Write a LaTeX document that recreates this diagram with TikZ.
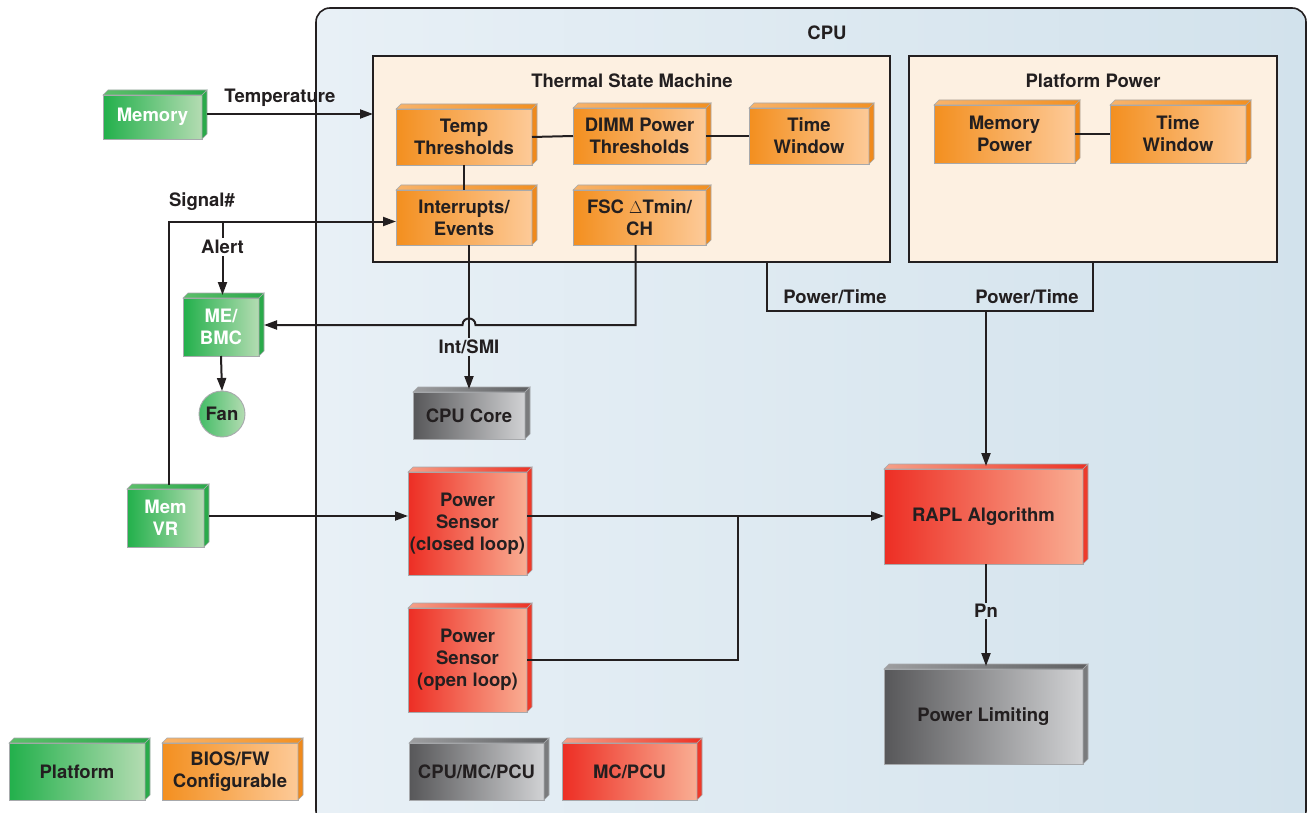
\documentclass[tikz,border=0pt]{standalone}
\usepackage{fontspec}
\setmainfont{TeX Gyre Heros}
\usetikzlibrary{arrows.meta,calc}

\definecolor{ink}{HTML}{231F20}
\definecolor{edge}{HTML}{A7A9AC}
\definecolor{cpuL}{HTML}{E8F0F6}
\definecolor{cpuR}{HTML}{D2E2EC}
\definecolor{panel}{HTML}{FDF0E1}
\definecolor{grnL}{HTML}{22B04B}
\definecolor{grnR}{HTML}{B4DCB2}
\definecolor{grnTL}{HTML}{5CBF6A}
\definecolor{grnTR}{HTML}{2AA84A}
\definecolor{grnS}{HTML}{2AAA4A}
\definecolor{orgL}{HTML}{F38F1F}
\definecolor{orgR}{HTML}{FDCA98}
\definecolor{orgTL}{HTML}{F8B36A}
\definecolor{orgTR}{HTML}{F39020}
\definecolor{orgS}{HTML}{F08A1C}
\definecolor{redL}{HTML}{ED2E24}
\definecolor{redR}{HTML}{F9AE93}
\definecolor{redTL}{HTML}{F6A088}
\definecolor{redTR}{HTML}{EE3124}
\definecolor{redS}{HTML}{EE3A2A}
\definecolor{gryL}{HTML}{575759}
\definecolor{gryR}{HTML}{D1D2D4}
\definecolor{gryTL}{HTML}{9D9EA0}
\definecolor{gryTR}{HTML}{5E5F61}
\definecolor{gryS}{HTML}{7A7B7D}

\tikzset{
  txt/.style={font=\bfseries\fontsize{18.5}{22}\selectfont, text=ink},
  blk/.style={txt, draw=edge, line width=0.9pt, inner sep=0pt, outer sep=0pt,
    align=center},
  sz/.style 2 args={minimum width=#1pt, minimum height=#2pt},
  greenbox/.style={blk, left color=grnL, right color=grnR, text=white},
  orangebox/.style={blk, left color=orgL, right color=orgR},
  redbox/.style={blk, left color=redL, right color=redR},
  greybox/.style={blk, left color=gryL, right color=gryR},
  panelbox/.style={draw=ink, line width=1.6pt, fill=panel},
  wire/.style={draw=ink, line width=2pt},
  arr/.style={wire, -{Triangle[length=13pt,width=9pt]}},
  lbl/.style={txt, inner sep=1.5pt},
}

% top and right faces of a bevelled block
\newcommand\boxfaces[4]{%
  \path[draw=edge, line width=0.6pt, left color=#2, right color=#3]
    (#1.north west) -- ++(5,-5) -- ($(#1.north east)+(5,-5)$) -- (#1.north east) -- cycle;
  \path[draw=edge, line width=0.6pt, fill=#4]
    (#1.north east) -- ++(5,-5) -- ($(#1.south east)+(5,-5)$) -- (#1.south east) -- cycle;}

\begin{document}
\begin{tikzpicture}[x=1pt, y=-1pt]
\useasboundingbox (0,0) rectangle (1308,813);
\fill[white] (0,0) rectangle (1308,813);

% CPU enclosure
\path[draw=ink, line width=1.6pt, rounded corners=14pt, left color=cpuL, right color=cpuR]
  (316,8) rectangle (1306,825);
\node[lbl] (cpu) at (827,33) {CPU};

% sub-panels
\path[panelbox] (373,56) rectangle (890,262);
\node[lbl] (tsmtitle) at (632,81) {Thermal State Machine};
\coordinate (tsmS) at (632,262);
\coordinate (tsmW) at (373,159);
\path[panelbox] (909,56) rectangle (1277,262);
\node[lbl] (pptitle) at (1093,81) {Platform Power};
\coordinate (ppS) at (1093,262);

% platform blocks
\node[greenbox, sz={99}{44}] (mem) at (152.5,117) {Memory};
\boxfaces{mem}{grnTL}{grnTR}{grnS}
\node[greenbox, sz={76}{58}] (mebmc) at (221,327) {ME/\\BMC};
\boxfaces{mebmc}{grnTL}{grnTR}{grnS}
\node[blk, circle, minimum size=46pt, left color=grnL!85, right color=grnR] (fan) at (222,414) {Fan};
\node[greenbox, sz={77}{58}] (memvr) at (165.5,518) {Mem\\VR};
\boxfaces{memvr}{grnTL}{grnTR}{grnS}

% thermal state machine blocks
\node[orangebox, sz={136}{56}] (temp) at (464,137) {Temp\\Thresholds};
\boxfaces{temp}{orgTL}{orgTR}{orgS}
\node[orangebox, sz={133}{56}] (dimm) at (639.5,136) {DIMM Power\\Thresholds};
\boxfaces{dimm}{orgTL}{orgTR}{orgS}
\node[orangebox, sz={120}{56}] (tw1) at (809,136) {Time\\Window};
\boxfaces{tw1}{orgTL}{orgTR}{orgS}
\node[orangebox, sz={136}{55}] (intr) at (464,217.5) {Interrupts/\\Events};
\boxfaces{intr}{orgTL}{orgTR}{orgS}
\node[orangebox, sz={133}{55}] (fsc) at (639.5,217.5) {FSC $\Delta$Tmin/\\CH};
\boxfaces{fsc}{orgTL}{orgTR}{orgS}

% platform power blocks
\node[orangebox, sz={141}{58}] (mpow) at (1004.5,134) {Memory\\Power};
\boxfaces{mpow}{orgTL}{orgTR}{orgS}
\node[orangebox, sz={136}{58}] (tw2) at (1178,134) {Time\\Window};
\boxfaces{tw2}{orgTL}{orgTR}{orgS}

% CPU-side blocks
\node[greybox, sz={112}{47}] (core) at (469,415.5) {CPU Core};
\boxfaces{core}{gryTL}{gryTR}{gryS}
\node[redbox, sz={119}{103}] (psc) at (467.5,523.5) {Power\\Sensor\\(closed loop)};
\boxfaces{psc}{redTL}{redTR}{redS}
\node[redbox, sz={119}{104}] (pso) at (467.5,660) {Power\\Sensor\\(open loop)};
\boxfaces{pso}{redTL}{redTR}{redS}
\node[redbox, sz={199}{95}] (rapl) at (983.5,516.5) {RAPL Algorithm};
\boxfaces{rapl}{redTL}{redTR}{redS}
\node[greybox, sz={199}{95}] (plim) at (983.5,716.5) {Power Limiting};
\boxfaces{plim}{gryTL}{gryTR}{gryS}

% legend
\node[greenbox, sz={136}{57}, text=ink] (lgplat) at (77,771.5) {Platform};
\boxfaces{lgplat}{grnTL}{grnTR}{grnS}
\node[orangebox, sz={136}{57}] (lgbios) at (230,771.5) {BIOS/FW\\Configurable};
\boxfaces{lgbios}{orgTL}{orgTR}{orgS}
\node[greybox, sz={135}{57}] (lgcpu) at (476.5,771.5) {CPU/MC/PCU};
\boxfaces{lgcpu}{gryTL}{gryTR}{gryS}
\node[redbox, sz={135}{57}] (lgmc) at (629.5,771.5) {MC/PCU};
\boxfaces{lgmc}{redTL}{redTR}{redS}

% temperature input
\coordinate (memout) at ($(mem.east)+(5,-3)$);
\draw[arr] (memout) -- (memout -| tsmW);
\node[lbl] (templbl) at (280,98) {Temperature};

% Signal# / Alert
\coordinate (sigfoot) at ($(memvr.north)+(3.5,-4)$);
\coordinate (intin) at ($(intr.west)+(0,4)$);
\coordinate (sigtop) at (sigfoot |- intin);
\draw[arr] (sigfoot) -- (sigtop) -- (intin);
\node[lbl] (siglbl) at (202,202) {Signal\#};
\coordinate (alertJ) at ($(mebmc.north)+(1.5,0)$);
\node[lbl, fill=white, inner sep=2pt] (alert) at (alertJ |- 0,247) {Alert};
\draw[wire] (alertJ |- intin) -- (alert.north);
\draw[arr] (alert.south) -- ($(alertJ)+(0,-3)$);
\draw[arr] (mebmc.south) -- (fan.north);

% interrupts to CPU core
\coordinate (intout) at ($(intr.south)+(5,0)$);
\node[lbl] (intsmi) at (intout |- 0,347) {Int/SMI};
\draw[wire] (intout) -- (intsmi.north);
\draw[arr] (intsmi.south) -- ($(core.north)+(0,-3)$);

% FSC to ME/BMC, hopping over the Int/SMI line
\coordinate (bmcin) at ($(mebmc.east)+(5,-2)$);
\coordinate (hopR) at ($(intout |- bmcin)+(6.5,0)$);
\coordinate (hopL) at ($(intout |- bmcin)+(-6.5,0)$);
\coordinate (fscout) at ($(fsc.south)+(-4,0)$);
\draw[arr] (fscout) |- (hopR) .. controls +(0,-8.7) and +(0,-8.7) .. (hopL) -- (bmcin);

% links inside the panels
\draw[wire] (temp.south) -- (intr.north);
\draw[wire] (temp.east) -- (dimm.west);
\draw[wire] (dimm.east) -- (tw1.west);
\draw[wire] (mpow.east) -- (tw2.west);

% Power/Time to RAPL
\coordinate (ptL) at (767,311);
\draw[wire] (ptL |- tsmS) -- (ptL) -- (ptL -| ppS) -- (ppS);
\node[lbl] (ptlbl1) at (835,297) {Power/Time};
\node[lbl] (ptlbl2) at (1027,297) {Power/Time};
\coordinate (raplIn) at ($(rapl.north)+(2.5,-3)$);
\draw[arr] (raplIn |- ptL) -- (raplIn);

% sensors
\coordinate (vrout) at ($(memvr.east)+(5,-2)$);
\draw[arr] (vrout) -- (vrout -| psc.west);
\draw[arr] (vrout -| psc.east) -- (vrout -| rapl.west);
\coordinate (join) at (738,0);
\draw[wire] (pso.east) -| (join |- vrout);

% RAPL to power limiting
\node[lbl] (pn) at (raplIn |- 0,611) {Pn};
\draw[wire] (raplIn |- rapl.south) -- (pn.north);
\draw[arr] (pn.south) -- ($(plim.north)+(2.5,-3)$);
\end{tikzpicture}
\end{document}
